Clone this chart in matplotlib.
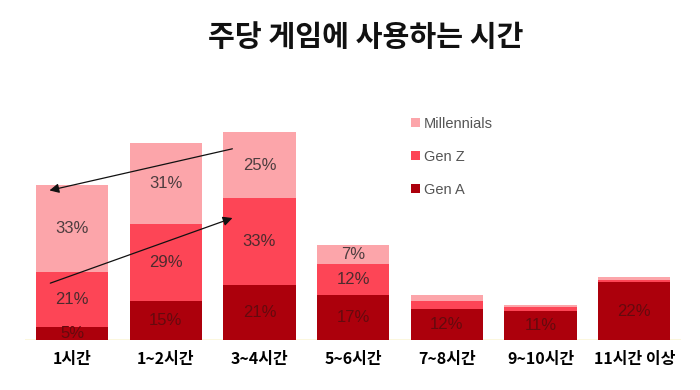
import numpy as np
import matplotlib.pyplot as plt

plt.rcParams['font.family'] = ['Noto Sans CJK KR', 'DejaVu Sans']

# ---- data ----
categories = ['1시간', '1~2시간', '3~4시간', '5~6시간', '7~8시간', '9~10시간', '11시간 이상']
gen_a = [5, 15, 21, 17, 12, 11, 22]
gen_z = [21, 29, 33, 12, 3, 1.5, 1]
millennials = [33, 31, 25, 7, 2, 1, 1]

colors = {'Gen A': '#ac000c', 'Gen Z': '#fd4556', 'Millennials': '#fca5aa'}

fig = plt.figure(figsize=(7, 3.9), dpi=100)
ax = fig.add_axes([0.036, 0.128, 0.937, 0.674])

x = np.arange(len(categories))
w = 0.77
b1 = ax.bar(x, gen_a, w, color=colors['Gen A'], label='Gen A')
b2 = ax.bar(x, gen_z, w, bottom=gen_a, color=colors['Gen Z'], label='Gen Z')
bottom2 = np.array(gen_a) + np.array(gen_z)
b3 = ax.bar(x, millennials, w, bottom=bottom2, color=colors['Millennials'], label='Millennials')

# percent labels on the larger segments
for bars, vals, col in [(b1, gen_a, '#650a0e'), (b2, gen_z, '#4d2b2e'), (b3, millennials, '#4d3d3f')]:
    for rect, v in zip(bars, vals):
        if v >= 5:
            ax.text(rect.get_x() + rect.get_width() / 2, rect.get_y() + rect.get_height() / 2,
                    f'{v}%', ha='center', va='center', fontsize=12, color=col,
                    family=['Liberation Sans', 'DejaVu Sans'])

# arrows between 1시간 and 3~4시간
tot = bottom2 + np.array(millennials)
ax.annotate('', xy=(-0.27, tot[0] - 2.3), xytext=(1.74, tot[2] - 6),
            arrowprops=dict(arrowstyle='-|>', color='#111111', lw=0.9, mutation_scale=14))
ax.annotate('', xy=(1.74, bottom2[2] - 7.2), xytext=(-0.26, bottom2[0] - 4.7),
            arrowprops=dict(arrowstyle='-|>', color='#111111', lw=0.9, mutation_scale=14))

ax.set_xlim(-0.5, len(categories) - 0.5)
ax.set_ylim(0, 100)
ax.set_xticks(x)
ax.set_xticklabels(categories, fontsize=11.5, fontweight='bold')
ax.tick_params(axis='x', length=0, pad=8)
ax.set_yticks([])
for s in ax.spines.values():
    s.set_visible(False)
ax.axhline(0, color='#fbf6d8', lw=1.2, zorder=0)

# legend
handles = [b3, b2, b1]
leg = ax.legend(handles, ['Millennials', 'Gen Z', 'Gen A'], loc='upper left',
                bbox_to_anchor=(0.568, 0.9), frameon=False, handlelength=0.65,
                handleheight=0.65, handletextpad=0.25, labelspacing=1.3,
                prop={'family': ['Liberation Sans', 'DejaVu Sans'], 'size': 10.5})
for t in leg.get_texts():
    t.set_color('#555555')

fig.text(0.523, 0.905, '주당 게임에 사용하는 시간', ha='center', va='center',
         fontsize=21, fontweight='bold', color='#111111')

fig.savefig('out.png', dpi=100)
